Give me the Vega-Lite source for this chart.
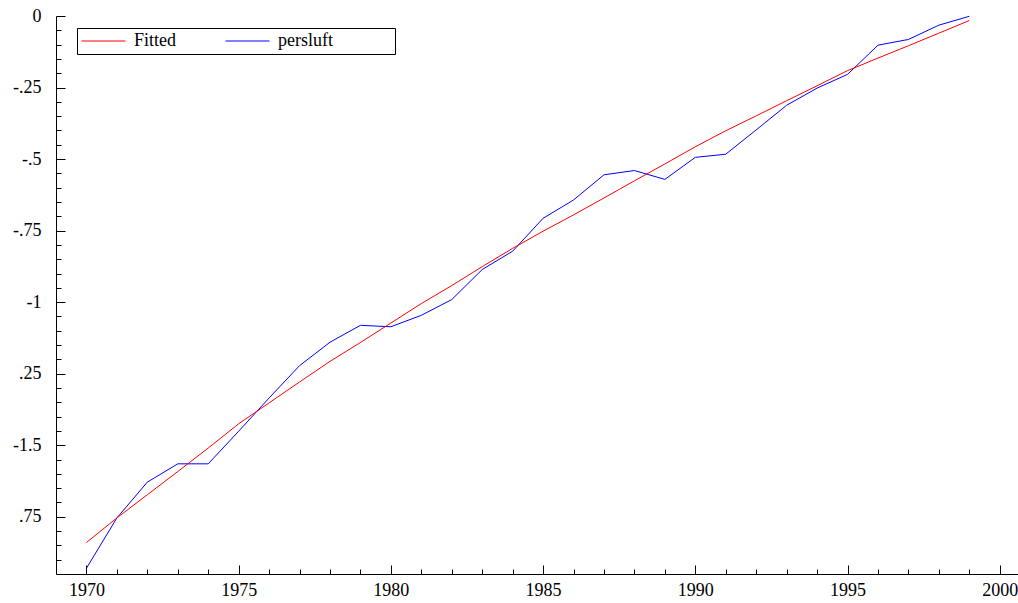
{
  "$schema": "https://vega.github.io/schema/vega-lite/v6.json",
  "width": 962,
  "height": 558,
  "autosize": {"type": "none"},
  "padding": {"left": 56, "top": 16, "right": 0, "bottom": 29},
  "background": "white",
  "config": {
    "view": {"stroke": null},
    "axis": {
      "labelFont": "Liberation Serif",
      "labelFontSize": 18,
      "labelColor": "black",
      "tickColor": "black",
      "domainColor": "black",
      "domainWidth": 1,
      "tickWidth": 1,
      "grid": false,
      "title": null,
      "labelFlush": false,
      "labelOverlap": false
    }
  },
  "data": {
    "values": [
      {"year": 1970, "series": "persluft", "value": -1.930},
      {"year": 1971, "series": "persluft", "value": -1.754},
      {"year": 1972, "series": "persluft", "value": -1.629},
      {"year": 1973, "series": "persluft", "value": -1.565},
      {"year": 1974, "series": "persluft", "value": -1.565},
      {"year": 1975, "series": "persluft", "value": -1.451},
      {"year": 1976, "series": "persluft", "value": -1.335},
      {"year": 1977, "series": "persluft", "value": -1.222},
      {"year": 1978, "series": "persluft", "value": -1.140},
      {"year": 1979, "series": "persluft", "value": -1.081},
      {"year": 1980, "series": "persluft", "value": -1.086},
      {"year": 1981, "series": "persluft", "value": -1.046},
      {"year": 1982, "series": "persluft", "value": -0.991},
      {"year": 1983, "series": "persluft", "value": -0.886},
      {"year": 1984, "series": "persluft", "value": -0.822},
      {"year": 1985, "series": "persluft", "value": -0.707},
      {"year": 1986, "series": "persluft", "value": -0.643},
      {"year": 1987, "series": "persluft", "value": -0.555},
      {"year": 1988, "series": "persluft", "value": -0.540},
      {"year": 1989, "series": "persluft", "value": -0.571},
      {"year": 1990, "series": "persluft", "value": -0.494},
      {"year": 1991, "series": "persluft", "value": -0.483},
      {"year": 1992, "series": "persluft", "value": -0.398},
      {"year": 1993, "series": "persluft", "value": -0.312},
      {"year": 1994, "series": "persluft", "value": -0.252},
      {"year": 1995, "series": "persluft", "value": -0.204},
      {"year": 1996, "series": "persluft", "value": -0.102},
      {"year": 1997, "series": "persluft", "value": -0.082},
      {"year": 1998, "series": "persluft", "value": -0.032},
      {"year": 1999, "series": "persluft", "value": -0.001},
      {"year": 1970, "series": "Fitted", "value": -1.840},
      {"year": 1971, "series": "Fitted", "value": -1.754},
      {"year": 1972, "series": "Fitted", "value": -1.673},
      {"year": 1973, "series": "Fitted", "value": -1.592},
      {"year": 1974, "series": "Fitted", "value": -1.510},
      {"year": 1975, "series": "Fitted", "value": -1.425},
      {"year": 1976, "series": "Fitted", "value": -1.352},
      {"year": 1977, "series": "Fitted", "value": -1.279},
      {"year": 1978, "series": "Fitted", "value": -1.207},
      {"year": 1979, "series": "Fitted", "value": -1.141},
      {"year": 1980, "series": "Fitted", "value": -1.073},
      {"year": 1981, "series": "Fitted", "value": -1.005},
      {"year": 1982, "series": "Fitted", "value": -0.942},
      {"year": 1983, "series": "Fitted", "value": -0.876},
      {"year": 1984, "series": "Fitted", "value": -0.812},
      {"year": 1985, "series": "Fitted", "value": -0.752},
      {"year": 1986, "series": "Fitted", "value": -0.695},
      {"year": 1987, "series": "Fitted", "value": -0.636},
      {"year": 1988, "series": "Fitted", "value": -0.576},
      {"year": 1989, "series": "Fitted", "value": -0.517},
      {"year": 1990, "series": "Fitted", "value": -0.457},
      {"year": 1991, "series": "Fitted", "value": -0.401},
      {"year": 1992, "series": "Fitted", "value": -0.349},
      {"year": 1993, "series": "Fitted", "value": -0.296},
      {"year": 1994, "series": "Fitted", "value": -0.244},
      {"year": 1995, "series": "Fitted", "value": -0.191},
      {"year": 1996, "series": "Fitted", "value": -0.147},
      {"year": 1997, "series": "Fitted", "value": -0.104},
      {"year": 1998, "series": "Fitted", "value": -0.060},
      {"year": 1999, "series": "Fitted", "value": -0.016}
    ]
  },
  "mark": {"type": "line", "strokeWidth": 1, "clip": false},
  "encoding": {
    "x": {
      "field": "year",
      "type": "quantitative",
      "scale": {"domain": [1969, 2000.6], "nice": false, "zero": false},
      "axis": {
        "values": [1970, 1971, 1972, 1973, 1974, 1975, 1976, 1977, 1978, 1979, 1980, 1981, 1982, 1983, 1984, 1985, 1986, 1987, 1988, 1989, 1990, 1991, 1992, 1993, 1994, 1995, 1996, 1997, 1998, 1999, 2000],
        "labelExpr": "datum.value % 5 == 0 ? toString(datum.value) : ''",
        "tickSize": {"condition": {"test": "datum.value % 5 == 0", "value": -9}, "value": -5},
        "labelPadding": 16
      }
    },
    "y": {
      "field": "value",
      "type": "quantitative",
      "scale": {"domain": [-1.95, 0], "nice": false, "zero": false},
      "axis": {
        "values": [0, -0.05, -0.1, -0.15, -0.2, -0.25, -0.3, -0.35, -0.4, -0.45, -0.5, -0.55, -0.6, -0.65, -0.7, -0.75, -0.8, -0.85, -0.9, -0.95, -1, -1.05, -1.1, -1.15, -1.2, -1.25, -1.3, -1.35, -1.4, -1.45, -1.5, -1.55, -1.6, -1.65, -1.7, -1.75, -1.8, -1.85, -1.9],
        "labelExpr": "datum.value == 0 ? '0' : datum.value == -0.25 ? '-.25' : datum.value == -0.5 ? '-.5' : datum.value == -0.75 ? '-.75' : datum.value == -1 ? '-1' : datum.value == -1.25 ? '.25' : datum.value == -1.5 ? '-1.5' : datum.value == -1.75 ? '.75' : ''",
        "tickSize": {"condition": {"test": "datum.value == 0 || datum.value == -0.25 || datum.value == -0.5 || datum.value == -0.75 || datum.value == -1 || datum.value == -1.25 || datum.value == -1.5 || datum.value == -1.75", "value": -9}, "value": -5},
        "labelPadding": 24
      }
    },
    "color": {
      "field": "series",
      "type": "nominal",
      "scale": {"domain": ["Fitted", "persluft"], "range": ["#ff0000", "#0000ff"]},
      "legend": {
        "orient": "none",
        "legendX": 21,
        "legendY": 12,
        "direction": "horizontal",
        "title": null,
        "symbolType": "stroke",
        "symbolSize": 1936,
        "symbolStrokeWidth": 1,
        "clipHeight": 18,
        "labelFont": "Liberation Serif",
        "labelFontSize": 18,
        "labelColor": "black",
        "labelOffset": 8,
        "strokeColor": "black",
        "fillColor": "white",
        "padding": 4,
        "gridAlign": "each",
        "columnPadding": 48,
        "labelExpr": "datum.label == 'persluft' ? 'persluft\u2003\u2003\u2003\u2009\u200b' : datum.label"
      }
    }
  }
}
